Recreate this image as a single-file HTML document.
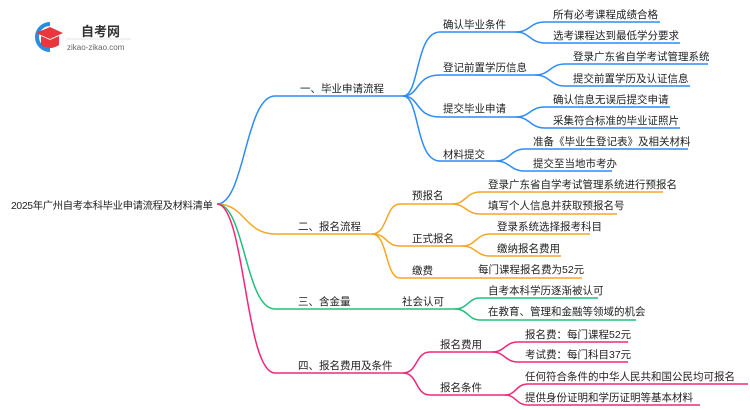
<!DOCTYPE html>
<html><head><meta charset="utf-8"><style>
html,body{margin:0;padding:0;background:#fff;width:750px;height:410px;overflow:hidden}
svg text{font-family:"Liberation Sans","Noto Sans CJK SC",sans-serif;fill:#222;font-size:10.5px}
</style></head><body>
<svg width="750" height="410" xmlns="http://www.w3.org/2000/svg">
<!-- logo -->
<path d="M50 24 A13 13 0 1 0 50 50" stroke="#2a8de0" stroke-width="4" fill="none"/>
<polygon points="36,33 50,27 63,33 50,39" fill="#e8383d"/>
<path d="M41 36 L41 45 Q50 51 59 45 L59 36 L50 40 Z" fill="#e8383d"/>
<text x="81" y="36" style="font-size:13px;font-weight:bold;fill:#333">自考网</text>
<line x1="66" y1="39" x2="131" y2="39" stroke="#ddd" stroke-width="0.7"/>
<text x="67" y="50" style="font-size:8px;fill:#666">zikao-zikao.com</text>

<text x="11" y="209" style="font-size:10.3px;letter-spacing:-0.3px">2025年广州自考本科毕业申请流程及材料清单</text>

<g fill="none" stroke-width="1.5">
<!-- blue -->
<g stroke="#2f8cf5">
<path d="M217 204 C245 204 245 96 275 96 L403 96"/>
<path d="M403 96 C420 96 415 32 440 32 L516 32"/>
<path d="M403 96 C420 96 415 75 440 75 L535 75"/>
<path d="M403 96 C420 96 415 117 440 117 L516 117"/>
<path d="M403 96 C420 96 415 161 440 161 L496 161"/>
<path d="M516 32 C530 32 530 22 545 22 L660 22"/>
<path d="M516 32 C530 32 530 43 545 43 L680 43"/>
<path d="M535 75 C550 75 550 64 565 64 L708 64"/>
<path d="M535 75 C550 75 550 86 565 86 L690 86"/>
<path d="M516 117 C530 117 530 107 545 107 L670 107"/>
<path d="M516 117 C530 117 530 128 545 128 L680 128"/>
<path d="M496 161 C510 161 510 149 525 149 L688 149"/>
<path d="M496 161 C510 161 510 171 525 171 L612 171"/>
</g>
<!-- orange -->
<g stroke="#f5a623">
<path d="M217 204 C245 204 245 234 275 234 L372 234"/>
<path d="M372 234 C388 234 385 204 400 204 L452 204"/>
<path d="M372 234 C388 234 385 246 400 246 L462 246"/>
<path d="M372 234 C388 234 385 278 400 278 L582 278"/>
<path d="M452 204 C466 204 466 192 480 192 L663 192"/>
<path d="M452 204 C466 204 466 214 480 214 L617 214"/>
<path d="M462 246 C476 246 476 234 490 234 L590 234"/>
<path d="M462 246 C476 246 476 256 490 256 L561 256"/>
</g>
<!-- green -->
<g stroke="#22c07a">
<path d="M217 204 C245 204 245 309 275 309 L455 309"/>
<path d="M455 309 C468 309 468 298 480 298 L598 298"/>
<path d="M455 309 C468 309 468 320 480 320 L636 320"/>
</g>
<!-- pink -->
<g stroke="#f0287a">
<path d="M217 204 C245 204 245 373 275 373 L403 373"/>
<path d="M403 373 C418 373 415 352 430 352 L492 352"/>
<path d="M403 373 C418 373 415 395 430 395 L505 395"/>
<path d="M492 352 C505 352 505 342 518 342 L628 342"/>
<path d="M492 352 C505 352 505 362 518 362 L628 362"/>
<path d="M505 395 C516 395 516 384 528 384 L748 384"/>
<path d="M505 395 C516 395 516 405 528 405 L700 405"/>
</g>
</g>

<text x="300" y="92">一、毕业申请流程</text>
<text x="443" y="28">确认毕业条件</text>
<text x="443" y="71">登记前置学历信息</text>
<text x="443" y="112">提交毕业申请</text>
<text x="443" y="158">材料提交</text>
<text x="553" y="18">所有必考课程成绩合格</text>
<text x="553" y="39">选考课程达到最低学分要求</text>
<text x="573" y="60">登录广东省自学考试管理系统</text>
<text x="573" y="82">提交前置学历及认证信息</text>
<text x="553" y="103">确认信息无误后提交申请</text>
<text x="553" y="124">采集符合标准的毕业证照片</text>
<text x="533" y="145">准备《毕业生登记表》及相关材料</text>
<text x="533" y="167">提交至当地市考办</text>

<text x="298" y="230">二、报名流程</text>
<text x="412" y="199">预报名</text>
<text x="412" y="242">正式报名</text>
<text x="412" y="274">缴费</text>
<text x="488" y="188">登录广东省自学考试管理系统进行预报名</text>
<text x="488" y="209">填写个人信息并获取预报名号</text>
<text x="497" y="230">登录系统选择报考科目</text>
<text x="497" y="252">缴纳报名费用</text>
<text x="478" y="273">每门课程报名费为52元</text>

<text x="298" y="305">三、含金量</text>
<text x="402" y="305">社会认可</text>
<text x="488" y="294">自考本科学历逐渐被认可</text>
<text x="488" y="315">在教育、管理和金融等领域的机会</text>

<text x="298" y="369">四、报名费用及条件</text>
<text x="440" y="348">报名费用</text>
<text x="440" y="391">报名条件</text>
<text x="525" y="338">报名费：每门课程52元</text>
<text x="525" y="358">考试费：每门科目37元</text>
<text x="525" y="380">任何符合条件的中华人民共和国公民均可报名</text>
<text x="525" y="401">提供身份证明和学历证明等基本材料</text>
</svg>
</body></html>
